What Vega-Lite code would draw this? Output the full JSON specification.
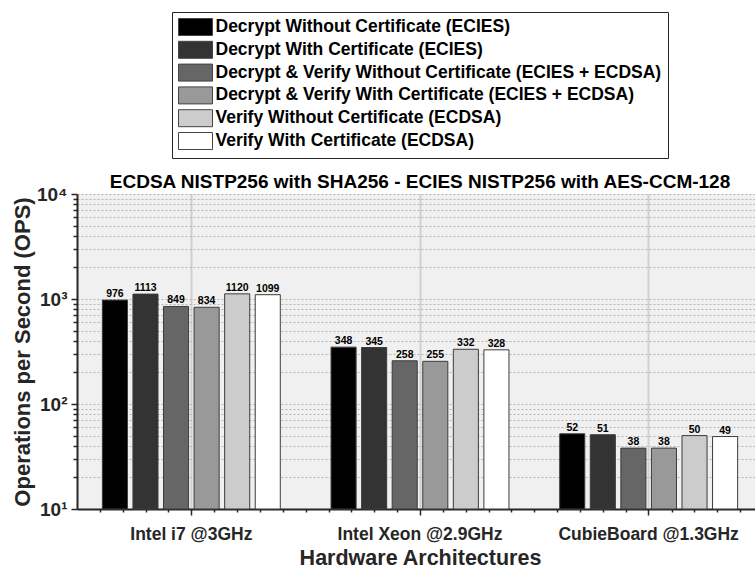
{
  "$schema": "https://vega.github.io/schema/vega-lite/v6.json",
  "width": 678,
  "height": 315,
  "autosize": {"type": "none"},
  "padding": {"left": 77, "top": 194, "right": 0, "bottom": 60},
  "background": "white",
  "title": {"text": "ECDSA NISTP256 with SHA256 - ECIES NISTP256 with AES-CCM-128", "font": "Liberation Sans", "fontSize": 19, "fontWeight": "bold", "color": "black", "offset": 6, "dy": 186, "dx": 4, "anchor": "middle", "frame": "group"},
  "config": {"view": {"fill": "#f0f0f0", "stroke": null}, "font": "Liberation Sans"},
  "data": {"values": [
    {"hw": "Intel i7 @3GHz", "series": "Decrypt Without Certificate (ECIES)", "ops": 976},
    {"hw": "Intel i7 @3GHz", "series": "Decrypt With Certificate (ECIES)", "ops": 1113},
    {"hw": "Intel i7 @3GHz", "series": "Decrypt & Verify Without Certificate (ECIES + ECDSA)", "ops": 849},
    {"hw": "Intel i7 @3GHz", "series": "Decrypt & Verify With Certificate (ECIES + ECDSA)", "ops": 834},
    {"hw": "Intel i7 @3GHz", "series": "Verify Without Certificate (ECDSA)", "ops": 1120},
    {"hw": "Intel i7 @3GHz", "series": "Verify With Certificate (ECDSA)", "ops": 1099},
    {"hw": "Intel Xeon @2.9GHz", "series": "Decrypt Without Certificate (ECIES)", "ops": 348},
    {"hw": "Intel Xeon @2.9GHz", "series": "Decrypt With Certificate (ECIES)", "ops": 345},
    {"hw": "Intel Xeon @2.9GHz", "series": "Decrypt & Verify Without Certificate (ECIES + ECDSA)", "ops": 258},
    {"hw": "Intel Xeon @2.9GHz", "series": "Decrypt & Verify With Certificate (ECIES + ECDSA)", "ops": 255},
    {"hw": "Intel Xeon @2.9GHz", "series": "Verify Without Certificate (ECDSA)", "ops": 332},
    {"hw": "Intel Xeon @2.9GHz", "series": "Verify With Certificate (ECDSA)", "ops": 328},
    {"hw": "CubieBoard @1.3GHz", "series": "Decrypt Without Certificate (ECIES)", "ops": 52},
    {"hw": "CubieBoard @1.3GHz", "series": "Decrypt With Certificate (ECIES)", "ops": 51},
    {"hw": "CubieBoard @1.3GHz", "series": "Decrypt & Verify Without Certificate (ECIES + ECDSA)", "ops": 38},
    {"hw": "CubieBoard @1.3GHz", "series": "Decrypt & Verify With Certificate (ECIES + ECDSA)", "ops": 38},
    {"hw": "CubieBoard @1.3GHz", "series": "Verify Without Certificate (ECDSA)", "ops": 50},
    {"hw": "CubieBoard @1.3GHz", "series": "Verify With Certificate (ECDSA)", "ops": 49}
  ]},
  "resolve": {"scale": {"x": "independent", "y": "independent"}, "axis": {"x": "independent", "y": "independent"}},
  "layer": [
    {
      "data": {"values": [{"p": 0, "q": 10}, {"p": 3, "q": 10000}]},
      "mark": {"type": "point", "opacity": 0},
      "encoding": {
        "x": {"field": "p", "type": "quantitative", "scale": {"domain": [0, 3], "range": [0, 686], "nice": false, "zero": false},
          "axis": {"orient": "bottom", "title": null, "labels": false, "domain": false, "grid": false, "ticks": true, "tickSize": 3, "tickColor": "#262626", "tickWidth": 1.5,
            "values": [0.1, 0.2, 0.3, 0.4, 0.6, 0.7, 0.8, 0.9, 1.0, 1.1, 1.2, 1.3, 1.4, 1.6, 1.7, 1.8, 1.9, 2.0, 2.1, 2.2, 2.3, 2.4, 2.6, 2.7, 2.8, 2.9]}},
        "y": {"field": "q", "type": "quantitative", "scale": {"type": "log", "domain": [10, 10000], "nice": false},
          "axis": {"orient": "left", "title": null, "labels": false, "domain": false, "grid": true, "gridColor": "#b4b4b4", "gridDash": [2, 2], "gridWidth": 1,
            "ticks": true, "tickSize": 4, "tickColor": "#262626", "tickWidth": 1.5,
            "values": [20, 30, 40, 50, 60, 70, 80, 90, 200, 300, 400, 500, 600, 700, 800, 900, 2000, 3000, 4000, 5000, 6000, 7000, 8000, 9000]}}
      }
    },
    {
      "encoding": {
        "x": {"field": "hw", "type": "nominal", "sort": ["Intel i7 @3GHz", "Intel Xeon @2.9GHz", "CubieBoard @1.3GHz"],
          "scale": {"paddingInner": 0, "paddingOuter": 0, "range": [0, 686]},
          "axis": {"orient": "bottom", "title": "Hardware Architectures", "titleFont": "Liberation Sans", "titleFontSize": 21.5, "titleFontWeight": "bold", "titleColor": "#262626", "titlePadding": 5,
            "labelAngle": 0, "labelFont": "Liberation Sans", "labelFontSize": 17.5, "labelFontWeight": "bold", "labelColor": "#262626", "labelPadding": 10, "labelLimit": 0,
            "bandPosition": 0.5, "grid": true, "gridColor": "#cfcfcf", "gridWidth": 2,
            "domainColor": "#262626", "domainWidth": 2, "tickColor": "#262626", "tickWidth": 1.5, "tickSize": 6}},
        "xOffset": {"field": "series", "type": "nominal",
          "sort": ["Decrypt Without Certificate (ECIES)", "Decrypt With Certificate (ECIES)", "Decrypt & Verify Without Certificate (ECIES + ECDSA)", "Decrypt & Verify With Certificate (ECIES + ECDSA)", "Verify Without Certificate (ECDSA)", "Verify With Certificate (ECDSA)"],
          "scale": {"paddingInner": 0.18, "paddingOuter": 0.83}},
        "y": {"field": "ops", "type": "quantitative",
          "scale": {"type": "log", "domain": [10, 10000], "nice": false},
          "axis": {"orient": "left", "title": "Operations per Second (OPS)", "titleFont": "Liberation Sans", "titleFontSize": 22, "titleFontWeight": "bold", "titleColor": "#262626", "titlePadding": 2,
            "values": [10, 100, 1000, 10000],
            "labelExpr": "datum.value == 10 ? '10¹' : datum.value == 100 ? '10²' : datum.value == 1000 ? '10³' : '10⁴'",
            "labelFont": "Liberation Sans", "labelFontSize": 19, "labelFontWeight": "bold", "labelColor": "#262626", "labelPadding": 4,
            "grid": true, "gridColor": "#b4b4b4", "gridDash": [2, 2], "gridWidth": 1,
            "domainColor": "#262626", "domainWidth": 2, "tickColor": "#262626", "tickWidth": 1.5, "tickSize": 6}}
      },
      "layer": [
        {
          "mark": {"type": "bar", "stroke": "#3c3c3c", "strokeWidth": 1},
          "encoding": {
            "y2": {"datum": 10},
            "color": {"field": "series", "type": "nominal",
              "scale": {"domain": ["Decrypt Without Certificate (ECIES)", "Decrypt With Certificate (ECIES)", "Decrypt & Verify Without Certificate (ECIES + ECDSA)", "Decrypt & Verify With Certificate (ECIES + ECDSA)", "Verify Without Certificate (ECDSA)", "Verify With Certificate (ECDSA)"],
                "range": ["#000000", "#333333", "#666666", "#999999", "#cccccc", "#ffffff"]},
              "legend": {"orient": "none", "legendX": 95, "legendY": -182, "title": null, "direction": "vertical",
                "symbolType": "M-2,-1H2V1H-2Z", "symbolSize": 289, "symbolOffset": 8.5, "symbolStrokeColor": "#444444", "symbolStrokeWidth": 1, "symbolOpacity": 1,
                "labelFont": "Liberation Sans", "labelFontSize": 17.5, "labelFontWeight": "bold", "labelColor": "black", "labelLimit": 0, "labelOffset": 11,
                "rowPadding": 0.8, "padding": 6, "strokeColor": "#262626", "fillColor": "white"}}
          }
        },
        {
          "mark": {"type": "text", "dy": -6, "font": "Liberation Sans", "fontSize": 10.5, "fontWeight": "bold", "color": "black"},
          "encoding": {"text": {"field": "ops", "type": "quantitative"}}
        }
      ]
    }
  ]
}
